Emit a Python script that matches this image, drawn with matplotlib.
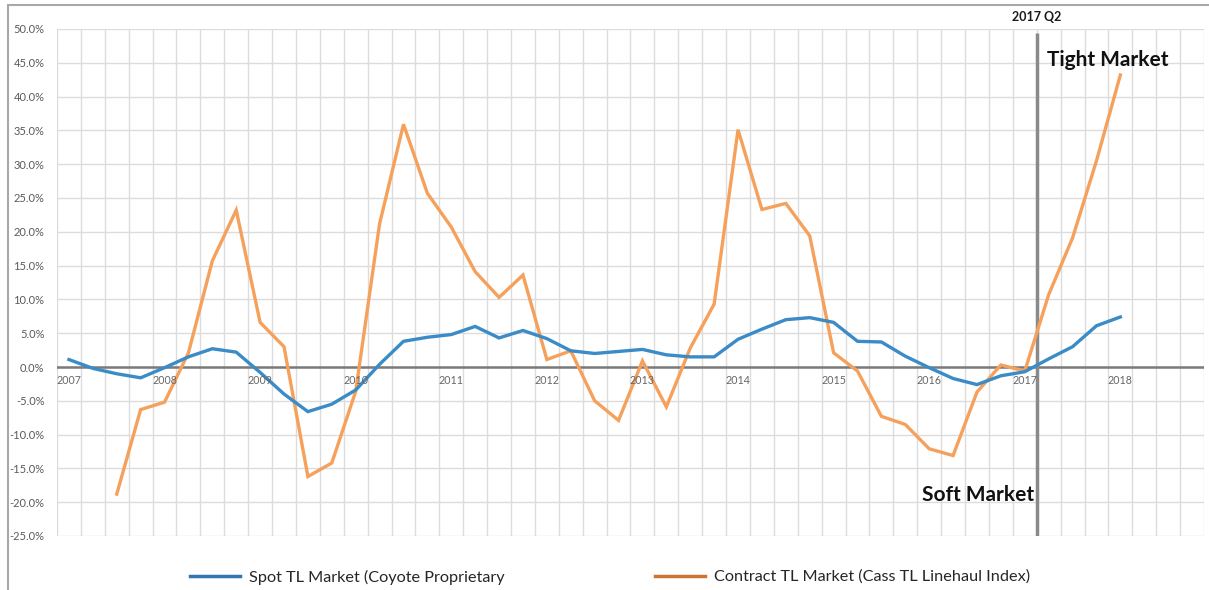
import matplotlib
matplotlib.use("Agg")
import matplotlib.pyplot as plt
from matplotlib.lines import Line2D
from matplotlib.patches import Rectangle
import numpy as np

plt.rcParams['font.family'] = ['Lato', 'DejaVu Sans']

# ---- data ----
years = list(range(2007, 2019))
quarters = [f"{y} Q{q}" for y in years for q in range(1, 5)]  # 48 categories
year_labels = [str(y) for y in years]

spot = [1.1, -0.2, -1.0, -1.6, -0.1, 1.5, 2.7, 2.2, -0.8, -4.0, -6.6, -5.5,
        -3.4, 0.4, 3.8, 4.4, 4.8, 6.0, 4.3, 5.4, 4.2, 2.4, 2.0, 2.3,
        2.6, 1.8, 1.5, 1.5, 4.1, 5.6, 7.0, 7.3, 6.6, 3.8, 3.7, 1.6,
        -0.1, -1.7, -2.6, -1.3, -0.7, 1.2, 3.0, 6.1, 7.4]
contract = [None, None, -18.8, -6.3, -5.2, 2.1, 15.7, 23.2, 6.6, 3.0, -16.2, -14.2,
            -3.6, 21.2, 35.9, 25.7, 20.7, 14.1, 10.3, 13.6, 1.1, 2.4, -5.0, -7.9,
            0.9, -5.9, 2.8, 9.3, 35.1, 23.3, 24.2, 19.4, 2.1, -0.6, -7.3, -8.5,
            -12.1, -13.1, -3.7, 0.3, -0.6, 10.7, 19.1, 30.5, 43.2]
divider_label = "2017 Q2"
series_names = ["Spot TL Market (Coyote Proprietary", "Contract TL Market (Cass TL Linehaul Index)"]

# ---- figure ----
W, H = 1209, 590
fig = plt.figure(figsize=(W / 100, H / 100), dpi=100)
fig.patch.set_facecolor('white')
ax = fig.add_axes([57 / W, 1 - 536 / H, (1204 - 57) / W, (536 - 29) / H])

n = len(quarters)
x_spot = np.arange(len(spot))
x_con = np.array([i for i, v in enumerate(contract) if v is not None])
y_con = np.array([v for v in contract if v is not None])

blue = '#3a8bc6'
orange = '#f5a15c'

ax.set_xlim(-0.5, n - 0.5)
ax.set_ylim(-25, 50)

# grid
ax.set_xticks(np.arange(-0.5, n, 1.0), minor=True)
ax.set_xticks([])
ax.set_yticks(np.arange(-25, 50.1, 5))
ax.grid(which='minor', axis='x', color='#dcdcdc', lw=1.0)
ax.grid(which='major', axis='y', color='#dcdcdc', lw=1.0)
ax.set_axisbelow(True)
for s in ax.spines.values():
    s.set_visible(False)
ax.tick_params(axis='both', which='both', length=0)
ax.tick_params(axis='y', pad=9, labelsize=8, labelcolor='#5a5a5a')
ax.set_yticklabels([f"{v:.1f}%" for v in np.arange(-25, 50.1, 5)])

# zero line
ax.axhline(0, color='#7a7a7a', lw=1.8, zorder=2)

# divider line
div_x = quarters.index(divider_label) - 0.5
ax.plot([div_x, div_x], [-25, 49.4], color='#8a8a8a', lw=2.5, zorder=2, solid_capstyle='butt')

# series
ax.plot(x_con, y_con, color=orange, lw=2.4, zorder=3, solid_joinstyle='miter')
ax.plot(x_spot, spot, color=blue, lw=2.4, zorder=4, solid_joinstyle='miter')

# year labels near zero line
for yl in year_labels:
    i = quarters.index(f"{yl} Q1")
    ax.text(i, -1.95, yl, ha='center', va='center', fontsize=7.7, color='#666666', zorder=5)

# annotations
ax.text(div_x, 51.8, divider_label, ha='center', va='center', fontsize=9,
        fontweight='bold', color='#1a1a1a', clip_on=False)
ax.text(div_x + 0.42, 45.4, "Tight Market", ha='left', va='center', fontsize=15,
        fontweight='bold', color='#111111')
ax.text(div_x - 0.1, -19.0, "Soft Market", ha='right', va='center', fontsize=15,
        fontweight='bold', color='#111111')

# legends
h1 = Line2D([], [], color='#3673b3', lw=2.5)
h2 = Line2D([], [], color='#cc7433', lw=2.5)
for h, name, xl in [(h1, series_names[0], 190), (h2, series_names[1], 655)]:
    fig.legend([h], [name], loc='center left', bbox_to_anchor=(xl / W, 1 - 577 / H),
               frameon=False, borderpad=0, borderaxespad=0, handlelength=3.1,
               handletextpad=0.5, fontsize=11.7, labelcolor='#262626')

# outer frame
fig.patches.append(Rectangle((8 / W, -0.2), 1.2, 1.2 - 5 / H, transform=fig.transFigure,
                             fill=False, edgecolor='#a8a8a8', lw=1.5))

fig.savefig('out.png', dpi=100, facecolor='white')
